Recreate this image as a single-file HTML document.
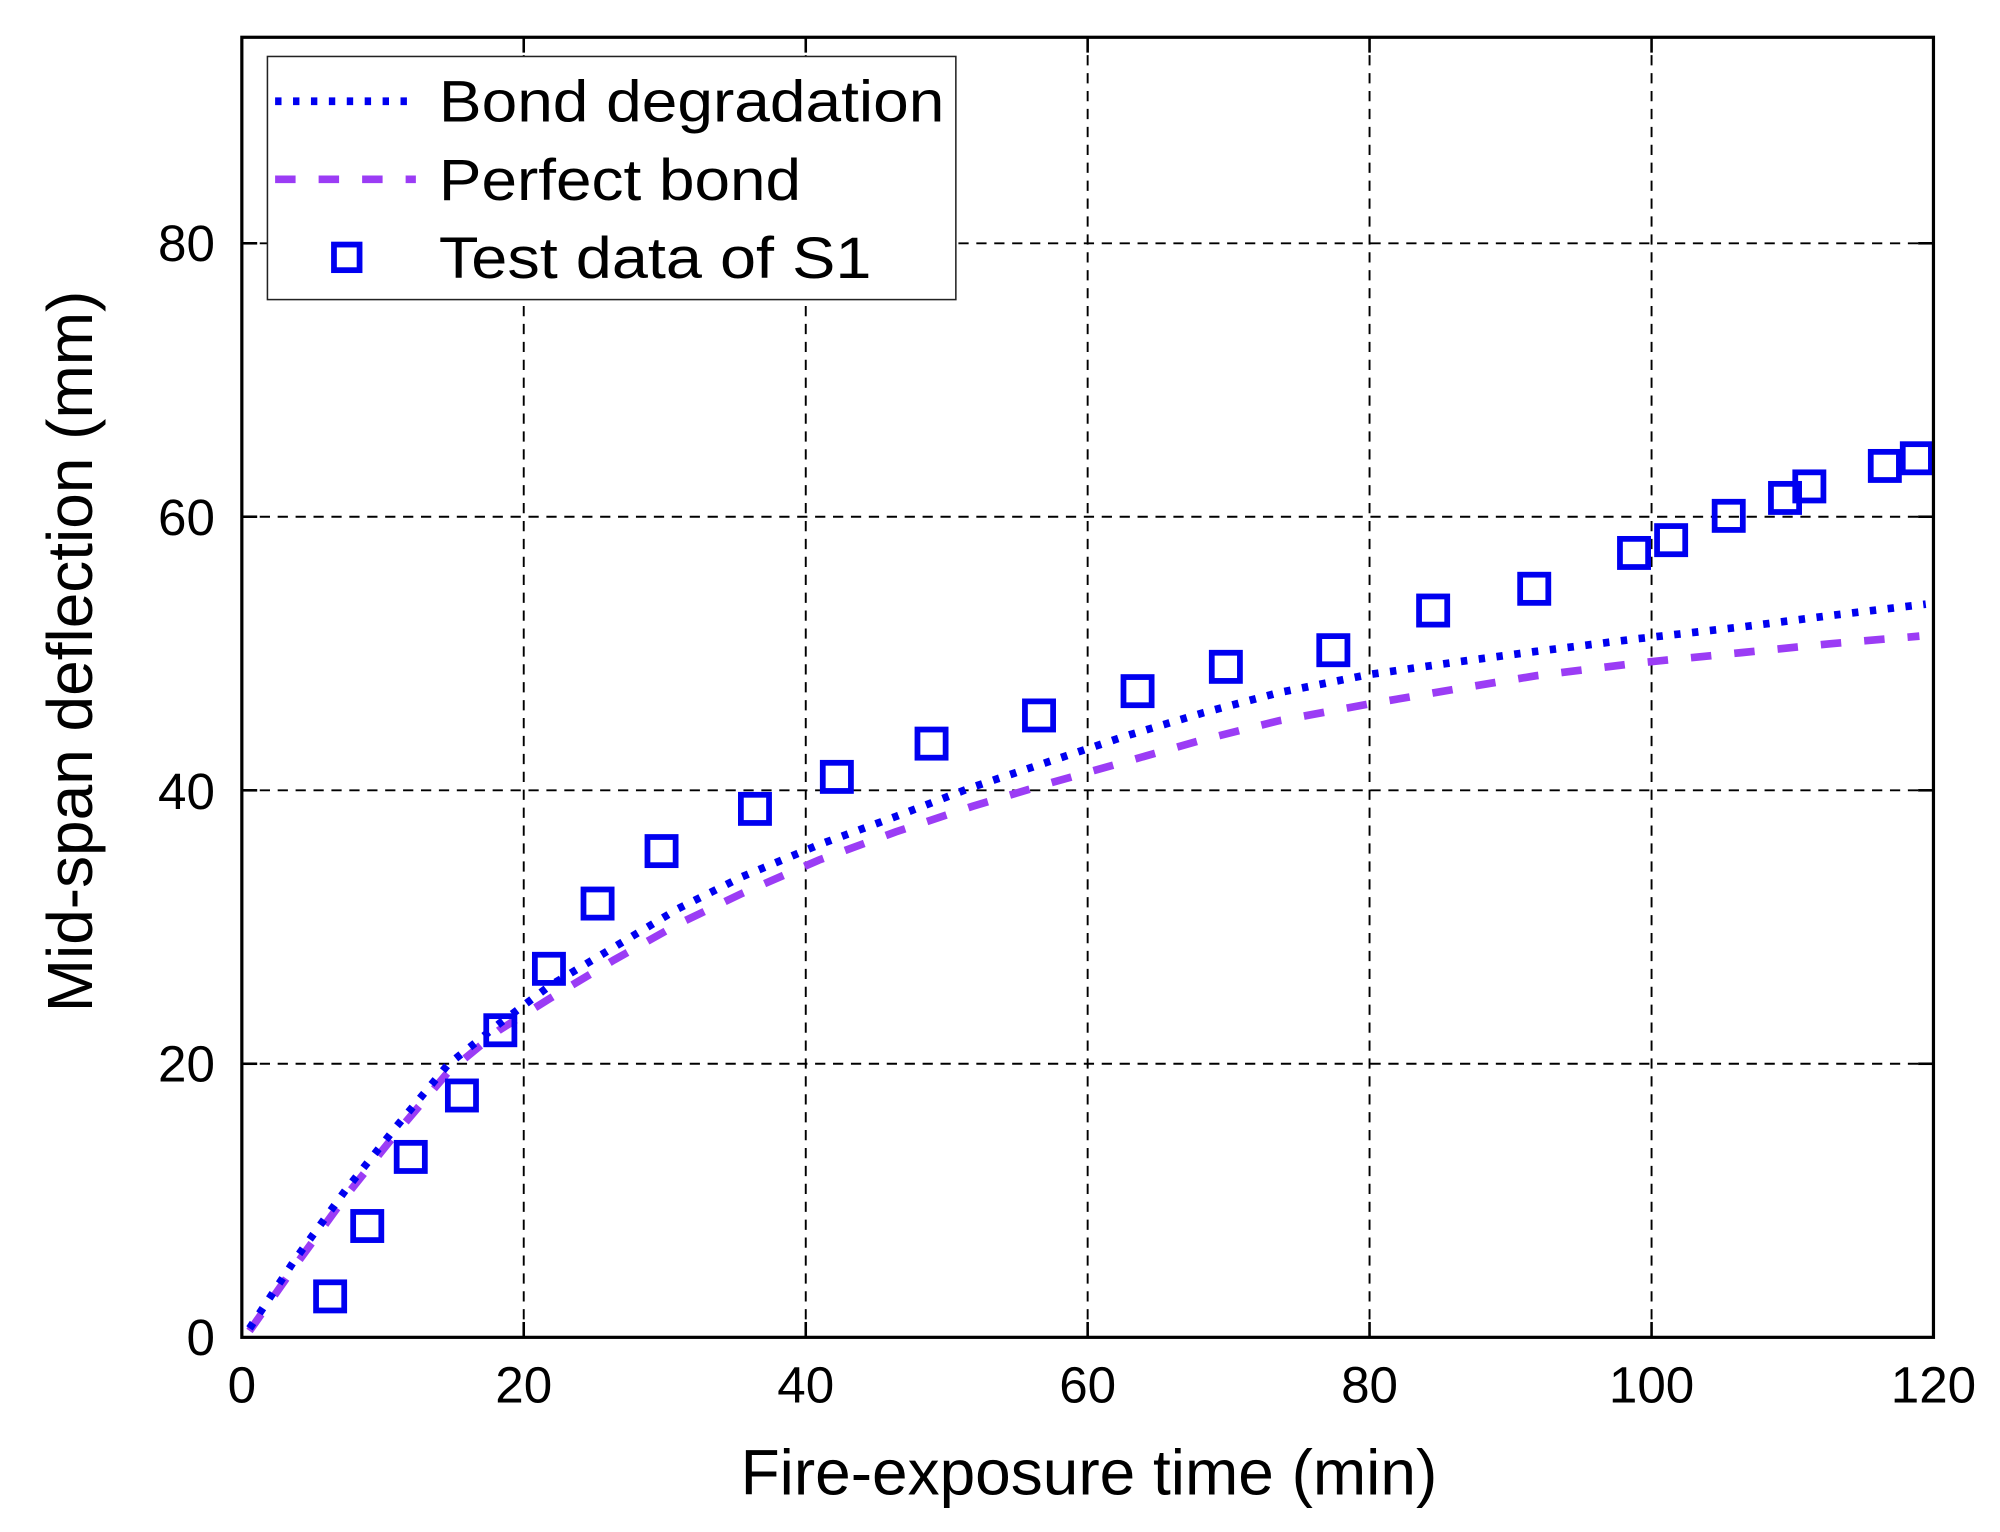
<!DOCTYPE html>
<html><head><meta charset="utf-8"><style>html,body{margin:0;padding:0;background:#fff}svg{display:block}</style></head>
<body>
<svg width="2000" height="1532" viewBox="0 0 1563 1197" xmlns="http://www.w3.org/2000/svg" font-family="Liberation Sans, Arial, sans-serif">
<rect width="1563" height="1197" fill="#fff"/>
<g stroke="#000" stroke-width="1.5" stroke-dasharray="8,6" fill="none">
<line x1="409.3" y1="29" x2="409.3" y2="1045"/>
<line x1="629.7" y1="29" x2="629.7" y2="1045"/>
<line x1="850" y1="29" x2="850" y2="1045"/>
<line x1="1070.3" y1="29" x2="1070.3" y2="1045"/>
<line x1="1290.7" y1="29" x2="1290.7" y2="1045"/>
<line x1="189" y1="831.2" x2="1511" y2="831.2"/>
<line x1="189" y1="617.5" x2="1511" y2="617.5"/>
<line x1="189" y1="403.7" x2="1511" y2="403.7"/>
<line x1="189" y1="190" x2="1511" y2="190"/>
</g>
<g stroke="#000" stroke-width="2">
<line x1="409.3" y1="1045" x2="409.3" y2="1033"/><line x1="629.7" y1="1045" x2="629.7" y2="1033"/><line x1="850" y1="1045" x2="850" y2="1033"/><line x1="1070.3" y1="1045" x2="1070.3" y2="1033"/><line x1="1290.7" y1="1045" x2="1290.7" y2="1033"/>
<line x1="409.3" y1="29" x2="409.3" y2="41"/><line x1="629.7" y1="29" x2="629.7" y2="41"/><line x1="850" y1="29" x2="850" y2="41"/><line x1="1070.3" y1="29" x2="1070.3" y2="41"/><line x1="1290.7" y1="29" x2="1290.7" y2="41"/>
<line x1="189" y1="831.2" x2="201" y2="831.2"/><line x1="189" y1="617.5" x2="201" y2="617.5"/><line x1="189" y1="403.7" x2="201" y2="403.7"/><line x1="189" y1="190" x2="201" y2="190"/>
<line x1="1511" y1="831.2" x2="1499" y2="831.2"/><line x1="1511" y1="617.5" x2="1499" y2="617.5"/><line x1="1511" y1="403.7" x2="1499" y2="403.7"/><line x1="1511" y1="190" x2="1499" y2="190"/>
</g>
<polyline fill="none" stroke="#9b3cf5" stroke-width="6" stroke-dasharray="16,18" points="195,1040 230,990 270,935 310,885 350,838 390,805 430,780 480,750 530,722 580,698 640,672 700,650 760,630 820,612 880,595 940,578 1000,563 1070,550 1140,538 1200,528 1280,518 1360,510 1430,503 1500,497"/>
<polyline fill="none" stroke="#0000f0" stroke-width="6" stroke-dasharray="5,9" points="195,1038 230,985 270,930 310,880 350,832 390,800 430,770 480,740 530,710 580,685 640,660 700,638 760,615 820,595 880,575 940,557 1000,541 1070,527 1140,517 1200,509 1280,499 1360,490 1430,481 1505,472"/>
<g fill="none" stroke="#0000f0" stroke-width="4.5">
<rect x="247" y="1002" width="22" height="22"/><rect x="276" y="947" width="22" height="22"/><rect x="310" y="893" width="22" height="22"/><rect x="350" y="845" width="22" height="22"/><rect x="380" y="794" width="22" height="22"/><rect x="418" y="746" width="22" height="22"/><rect x="456" y="695" width="22" height="22"/><rect x="506" y="654" width="22" height="22"/><rect x="579" y="621" width="22" height="22"/><rect x="643" y="596" width="22" height="22"/><rect x="717" y="570" width="22" height="22"/><rect x="801" y="548" width="22" height="22"/><rect x="878" y="529" width="22" height="22"/><rect x="947" y="510" width="22" height="22"/><rect x="1031" y="497" width="22" height="22"/><rect x="1109" y="466" width="22" height="22"/><rect x="1188" y="449" width="22" height="22"/><rect x="1266" y="421" width="22" height="22"/><rect x="1295" y="411" width="22" height="22"/><rect x="1340" y="392" width="22" height="22"/><rect x="1384" y="378" width="22" height="22"/><rect x="1403" y="369" width="22" height="22"/><rect x="1462" y="353" width="22" height="22"/><rect x="1487" y="347" width="22" height="22"/>
</g>
<rect x="189" y="29" width="1322" height="1016" fill="none" stroke="#000" stroke-width="2.5"/>
<rect x="209" y="44" width="538" height="190" fill="#fff" stroke="#222" stroke-width="1.2"/>
<line x1="215" y1="79" x2="325" y2="79" stroke="#0000f0" stroke-width="6" stroke-dasharray="5,9"/>
<line x1="215" y1="140" x2="325" y2="140" stroke="#9b3cf5" stroke-width="6" stroke-dasharray="16,18"/>
<rect x="261" y="191" width="20" height="20" fill="none" stroke="#0000f0" stroke-width="4.5"/>
<g font-size="46" fill="#000">
<text x="343" y="95" textLength="395" lengthAdjust="spacingAndGlyphs">Bond degradation</text>
<text x="343" y="156" textLength="283" lengthAdjust="spacingAndGlyphs">Perfect bond</text>
<text x="343" y="217" textLength="338" lengthAdjust="spacingAndGlyphs">Test data of S1</text>
</g>
<g font-size="40" fill="#000" text-anchor="middle">
<text x="189" y="1096">0</text><text x="409.3" y="1096">20</text><text x="629.7" y="1096">40</text><text x="850" y="1096">60</text><text x="1070.3" y="1096">80</text><text x="1290.7" y="1096">100</text><text x="1511" y="1096">120</text>
</g>
<g font-size="40" fill="#000" text-anchor="end">
<text x="168" y="1059">0</text><text x="168" y="845">20</text><text x="168" y="632">40</text><text x="168" y="418">60</text><text x="168" y="204">80</text>
</g>
<text x="851" y="1168" font-size="50" text-anchor="middle">Fire-exposure time (min)</text>
<text transform="translate(72,509) rotate(-90)" font-size="50" text-anchor="middle">Mid-span deflection (mm)</text>
</svg>
</body></html>
